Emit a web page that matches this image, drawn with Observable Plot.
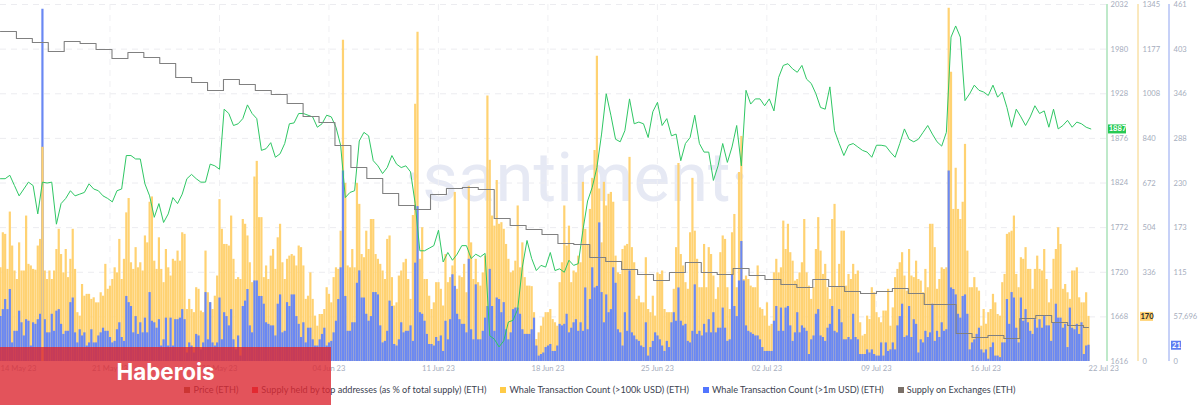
<!DOCTYPE html>
<html>
<head>
<meta charset="utf-8">
<script src="https://cdn.jsdelivr.net/npm/d3@7"></script>
<script src="https://cdn.jsdelivr.net/npm/@observablehq/plot@0.6"></script>
<style>
  body { margin: 0; background: #fff; font-family: Lato, sans-serif; position: relative; width: 1200px; height: 406px; overflow: hidden; }
  #vis svg { display: block; }
  #legend { display: flex; justify-content: center; gap: 14px; font-size: 9.15px; color: #3c4250; line-height: 12px; padding-top: 8px; }
  #legend span { display: flex; align-items: center; gap: 3px; }
  #legend i { width: 6px; height: 6px; display: inline-block; }
  #stamp { position: absolute; left: 0; top: 347px; width: 331px; height: 58px; background: rgba(220, 40, 50, .8); color: #fff; font: 700 22.4px Inter, sans-serif; text-align: center; line-height: 50px; }
</style>
</head>
<body>
<div id="vis"></div>
<div id="legend"></div>
<div id="stamp">Haberois</div>
<script>
// one bar about every 3.58 hours
const whale100k = [
  353,485,479,347,563,435,341,309,447,341,341,548,366,360,347,344,435,460,807,341,309,341,309,341,422,498,403,334,422,316,
  385,498,347,184,171,290,246,253,253,234,240,221,221,259,246,366,272,284,309,353,334,460,309,385,560,614,372,347,429,353,
  372,341,473,447,600,620,378,347,466,347,297,422,353,322,385,378,416,378,485,479,196,234,196,184,278,272,190,184,416,259,
  221,196,246,322,610,498,441,441,435,548,385,309,316,309,535,517,473,372,297,695,754,542,542,316,360,309,397,422,347,466,
  517,372,309,385,397,403,397,360,435,429,360,234,246,334,234,171,133,177,177,196,278,253,221,316,353,347,491,1210,671,360,
  353,422,353,671,592,403,391,491,422,535,535,403,385,366,341,309,460,473,316,209,221,322,341,372,385,309,234,550,969,1240,
  385,504,309,309,246,196,221,297,297,272,209,403,297,316,360,637,272,322,316,366,259,660,447,309,385,297,284,334,397,1000,
  758,548,510,682,517,523,498,441,385,334,341,378,586,353,447,316,284,284,282,184,83,108,133,165,184,184,196,158,146,133,
  297,372,586,435,510,297,341,334,397,372,675,498,441,573,690,795,1150,650,447,675,586,630,637,600,397,334,328,422,435,441,
  769,429,372,234,246,221,221,391,196,184,246,171,334,328,341,196,184,184,184,272,429,746,403,360,297,272,485,690,491,385,
  278,278,441,278,429,403,322,234,278,410,473,460,278,196,485,554,278,712,848,309,322,309,284,278,278,360,202,196,171,221,
  133,140,334,385,334,353,529,422,517,410,378,303,309,334,372,535,334,284,234,278,422,542,416,328,366,278,234,535,592,278,
  366,491,491,284,328,309,366,328,341,146,96,102,171,158,278,259,184,165,146,190,190,272,133,202,316,347,372,410,322,265,
  422,322,316,378,309,303,259,347,278,517,517,429,272,309,353,347,353,1331,1090,573,728,573,535,600,818,416,278,278,316,278,
  265,133,196,140,184,196,253,221,177,171,297,328,479,485,491,548,328,278,391,385,429,347,347,272,347,397,347,341,422,309,
  221,272,385,422,504,441,272,290,259,234,341,341,353,240,221,221,259,170
]
const whale1m = [
  58,67,80,67,93,24,39,39,65,50,33,54,52,20,50,48,54,61,455,54,37,37,61,39,65,67,48,35,39,39,
  76,82,37,24,41,33,37,20,24,41,24,24,33,37,43,39,39,31,24,26,41,50,31,26,84,76,71,37,58,35,
  50,37,56,37,89,52,50,43,54,20,28,56,20,56,20,54,54,56,67,54,11,24,20,11,35,33,15,24,89,28,
  76,24,20,24,82,28,63,58,46,67,28,15,33,7,71,78,93,46,37,104,104,84,84,74,50,48,46,46,33,74,
  86,37,39,76,71,86,86,58,48,31,50,24,43,43,28,20,20,28,35,43,20,24,26,37,52,80,121,246,84,39,
  39,50,50,101,117,82,82,61,52,58,89,89,86,46,24,26,39,78,71,22,20,28,50,37,39,39,46,26,127,200,
  63,61,52,35,22,22,20,31,26,33,13,52,28,54,112,97,61,54,48,48,37,132,41,28,99,28,28,39,56,71,
  119,71,39,82,80,63,76,41,28,37,67,69,69,61,41,35,35,35,41,56,20,7,9,11,18,20,22,13,13,20,
  48,46,48,61,37,43,50,54,39,50,39,95,41,80,121,95,97,179,89,50,86,63,67,121,101,41,37,20,63,39,
  117,37,33,28,26,20,18,50,7,18,26,37,33,28,20,13,26,18,50,63,52,95,52,46,48,26,24,39,99,35,
  39,33,48,37,54,37,63,37,43,43,69,43,26,28,112,71,58,104,155,104,46,39,37,35,33,33,28,18,13,13,
  13,13,52,71,39,69,39,69,71,46,26,37,63,37,46,43,39,9,28,33,61,67,33,31,26,43,48,71,39,37,
  67,50,28,28,31,28,61,31,28,9,9,9,15,11,15,9,7,7,24,7,24,13,15,24,15,46,58,74,31,33,
  71,31,54,48,11,28,24,39,31,37,74,26,39,31,50,39,41,246,95,93,86,61,56,84,86,61,15,24,28,35,
  43,15,11,15,3,18,24,7,7,5,24,24,80,48,89,82,43,24,82,52,67,50,39,35,54,43,54,43,58,46,
  46,26,50,74,56,56,43,48,18,69,43,41,48,35,50,9,20,21
]
// one price every second bar
const priceEth = [
  1829,1829,1833,1821,1809,1817,1825,1821,1788,1825,1824,1825,1776,1800,1806,1815,1809,1811,1813,1823,1817,1815,1809,1806,1802,
  1815,1817,1856,1856,1852,1852,1823,1809,1784,1800,1778,1788,1807,1800,1811,1829,1834,1829,1825,1825,1846,1844,1840,1910,1905,
  1891,1893,1899,1915,1905,1899,1862,1864,1871,1854,1858,1870,1893,1894,1905,1905,1903,1901,1889,1893,1903,1901,1889,1868,1807,
  1813,1815,1873,1883,1879,1850,1844,1835,1842,1856,1846,1842,1844,1837,1800,1745,1745,1748,1751,1769,1732,1743,1734,1741,1751,
  1751,1736,1741,1738,1742,1646,1642,1633,1640,1662,1664,1677,1726,1757,1736,1722,1728,1726,1743,1722,1724,1720,1734,1728,1730,
  1769,1803,1819,1842,1881,1928,1903,1875,1872,1885,1922,1893,1895,1893,1877,1907,1918,1891,1899,1879,1881,1850,1870,1877,1903,
  1870,1860,1860,1827,1844,1870,1848,1866,1891,1844,1932,1916,1922,1922,1914,1922,1908,1947,1961,1963,1957,1953,1961,1945,1940,
  1928,1912,1910,1936,1885,1870,1856,1868,1870,1866,1862,1860,1854,1868,1868,1867,1860,1854,1870,1887,1875,1872,1875,1883,1891,
  1881,1872,1867,1883,1994,2007,1994,1920,1928,1938,1932,1930,1926,1938,1924,1930,1912,1889,1910,1901,1891,1901,1914,1905,1908,
  1889,1910,1887,1891,1897,1889,1895,1893,1889,1887
]
// millions of ETH, no axis in the picture so the level is a guess, the shape is read
const supplyExchanges = [
  17.30,17.23,17.19,17.10,17.20,17.18,17.12,17.03,17.09,17.04,16.98,16.84,16.79,16.71,16.82,16.77,16.71,16.67,16.58,16.45,
  16.39,16.16,15.94,15.83,15.68,15.56,15.52,15.67,15.73,15.74,15.72,15.43,15.36,15.32,15.27,15.18,15.17,15.04,15.00,14.92,
  14.87,14.81,14.89,14.99,14.89,14.87,14.93,14.86,14.82,14.77,14.74,14.82,14.75,14.70,14.68,14.70,14.73,14.68,14.57,14.57,
  14.28,14.24,14.26,14.23,14.43,14.46,14.39,14.36,14.34,14.34
]
const dateTicks = ['2023-05-14','2023-05-21','2023-05-28','2023-06-04','2023-06-11','2023-06-18','2023-06-25','2023-07-02','2023-07-09','2023-07-16']
const priceTicks = [1616,1668,1720,1772,1824,1876,1928,1980,2032]
const yellowTicks = [0,336,504,672,840,1008,1177,1345]
const blueTicks = [0,57.696,115,173,230,288,346,403,461]
const yellowInFront = [18]
const legendItems = [
  ['Price (ETH)', '#8a6a3a'],
  ['Supply held by top addresses (as % of total supply) (ETH)', '#ff2d2d'],
  ['Whale Transaction Count (>100k USD) (ETH)', '#ffcb47'],
  ['Whale Transaction Count (>1m USD) (ETH)', '#5275ff'],
  ['Supply on Exchanges (ETH)', '#7a7068']
]

const start = Date.UTC(2023, 4, 14)
const hour = 36e5
const pxPerDay = 15.64
const atPx = px => new Date(start + px / pxPerDay * 24 * hour)
const barTime = i => new Date(start + i * 3.575 * hour)

// all the series share the price y scale, each with its own rescale
const yellowY = d3.scaleLinear([0, 1345], [1616, 2032])
const blueY = d3.scaleLinear([0, 461], [1616, 2032])
const supplyY = d3.scaleLinear([14, 17.57], [1616, 2032])

const bars = whale100k.map((v, i) => ({ t: barTime(i), i, yellow: yellowY(v), blue: blueY(whale1m[i]) }))
const price = priceEth.map((v, i) => ({ t: barTime(i * 2), v }))
const lastT = bars[bars.length - 1].t
const supply = supplyExchanges.map((v, i) => ({ t: i === supplyExchanges.length - 1 ? lastT : new Date(start + i * 24.44 * hour), v: supplyY(v) }))

const axisText = { fontSize: 7.6, fill: '#a6adbd', textAnchor: 'start', fontFamily: 'Lato' }
const fmtDate = d3.utcFormat('%d %b %y')
const tickDates = dateTicks.map(d => new Date(d))

function badge(px1, px2, yv, fill, color, label) {
  return [
    Plot.ruleY([yv], { x1: atPx(px1), x2: atPx(px2), stroke: fill, strokeWidth: 9 }),
    Plot.text([label], { x: atPx((px1 + px2) / 2), y: yv, text: d => d, fill: color, fontSize: 7.6, fontWeight: 700, fontFamily: 'Lato' })
  ]
}

const chart = Plot.plot({
  width: 1200,
  height: 376,
  marginTop: 4,
  marginBottom: 15,
  marginLeft: 0,
  marginRight: 0,
  style: { background: '#fff' },
  x: { type: 'utc', domain: [atPx(0), atPx(1200)], axis: null },
  y: { domain: [1616, 2032], axis: null },
  marks: [
    Plot.text(['·santiment·'], { x: atPx(576), y: 1829, text: d => d, fontSize: 69, fontWeight: 400, fontFamily: 'Roboto', fill: '#e6e9f4' }),
    Plot.ruleY(priceTicks.slice(1), { x1: atPx(0), x2: atPx(1106), stroke: '#ececf0', strokeWidth: 1, strokeDasharray: '6 5' }),
    Plot.ruleX(tickDates.slice(1), { stroke: '#f0f0f3', strokeWidth: 1, strokeDasharray: '6 5' }),
    Plot.ruleX(bars, { x: 't', y1: 1616, y2: 'yellow', stroke: '#ffd272', strokeWidth: 2.2 }),
    Plot.ruleX(bars, { x: 't', y1: 1616, y2: 'blue', stroke: '#6a88f3', strokeWidth: 2.2 }),
    Plot.ruleX(bars.filter(d => yellowInFront.includes(d.i)), { x: 't', y1: 1616, y2: 'yellow', stroke: '#ffd272', strokeWidth: 2.2 }),
    Plot.line(price, { x: 't', y: 'v', stroke: '#2fc764', strokeWidth: 1 }),
    Plot.line(supply, { x: 't', y: 'v', stroke: '#808080', strokeWidth: 1.1, curve: 'step-after' }),
    // the three right hand axes
    Plot.ruleX([atPx(1106.5)], { stroke: '#7fd395', strokeWidth: 1 }),
    Plot.ruleX([atPx(1137.5)], { stroke: '#f6d27c', strokeWidth: 1 }),
    Plot.ruleX([atPx(1168.5)], { stroke: '#8ea3f0', strokeWidth: 1 }),
    Plot.text(priceTicks, { x: atPx(1110), y: d => d, text: d => String(d), ...axisText }),
    Plot.text(yellowTicks, { x: atPx(1142), y: d => yellowY(d), text: d => String(d), ...axisText }),
    Plot.text(blueTicks, { x: atPx(1173), y: d => blueY(d), text: d => String(d).replace('.', ','), ...axisText }),
    ...badge(1108, 1126, priceEth[priceEth.length - 1], '#26c953', '#fff', '1887'),
    ...badge(1140, 1153, yellowY(whale100k[whale100k.length - 1]), '#ffd272', '#2b2b2b', '170'),
    ...badge(1171, 1181, blueY(whale1m[whale1m.length - 1]), '#5f7ef2', '#fff', '21'),
    // date labels, the first and last are pushed inwards like in the original
    Plot.text(tickDates.slice(1), { x: d => d, y: 1616, dy: 7, text: d => fmtDate(d), fontSize: 7.6, fill: '#a6adbd', fontFamily: 'Lato' }),
    Plot.text([tickDates[0]], { x: atPx(18), y: 1616, dy: 7, text: d => fmtDate(d), fontSize: 7.6, fill: '#a6adbd', fontFamily: 'Lato' }),
    Plot.text(['22 Jul 23'], { x: lastT, y: 1616, dy: 7, text: d => d, textAnchor: 'start', fontSize: 7.6, fill: '#a6adbd', fontFamily: 'Lato' })
  ]
})
d3.select('#vis').append(() => chart)

const legend = d3.select('#legend').selectAll('span').data(legendItems).join('span')
legend.append('i').style('background', d => d[1])
legend.append('b').style('font-weight', 400).text(d => d[0])
</script>
</body>
</html>
